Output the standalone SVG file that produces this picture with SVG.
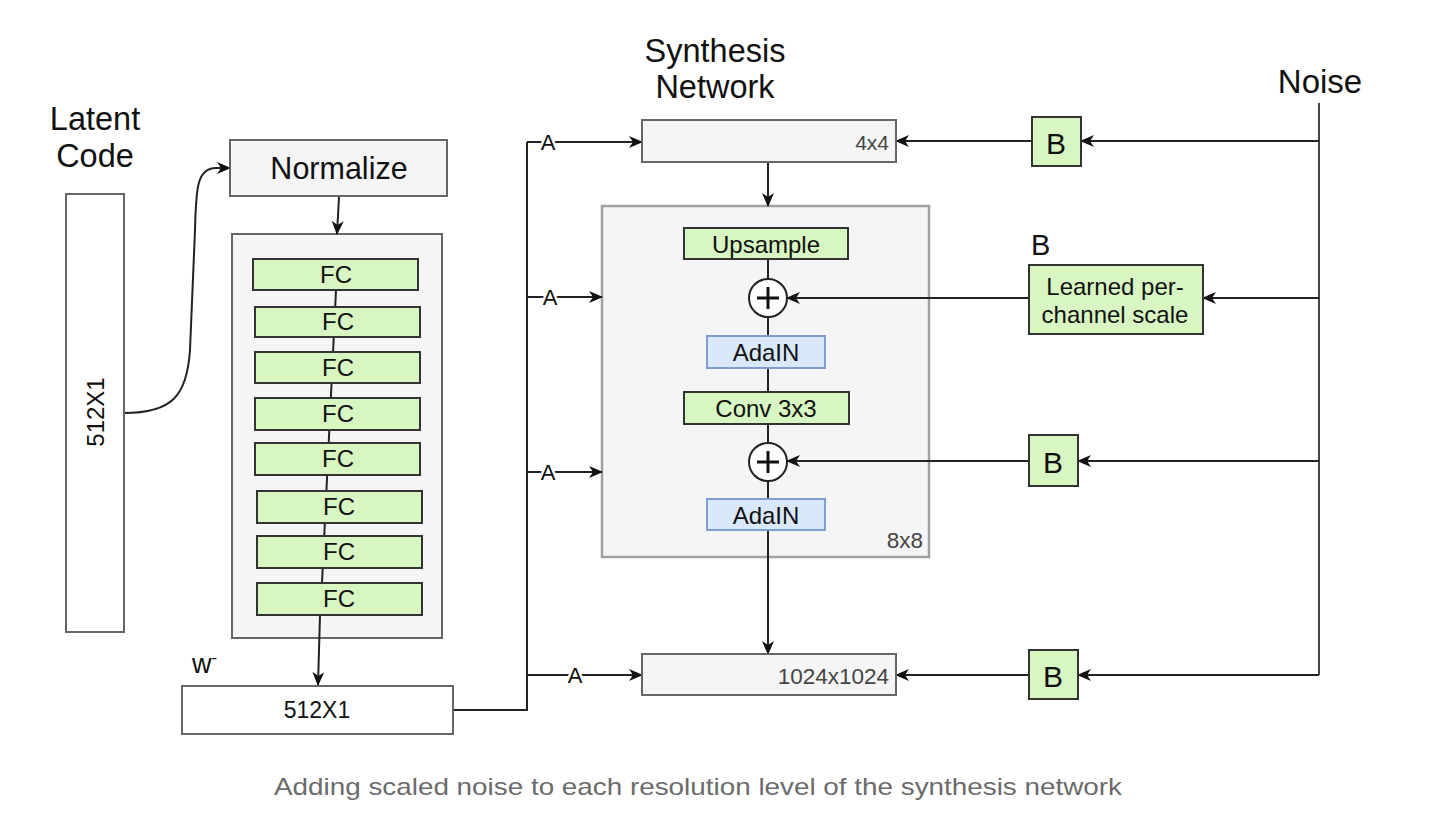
<svg xmlns="http://www.w3.org/2000/svg" width="1440" height="828" viewBox="0 0 1440 828">
<defs>
<style>
text{font-family:"Liberation Sans",Arial,sans-serif;fill:#111}
.title{font-size:32.5px}
.gray{fill:#f5f5f5;stroke:#666;stroke-width:2}
.green{fill:#d7f6c1;stroke:#333;stroke-width:2}
.blue{fill:#dae8fc;stroke:#7d9fd0;stroke-width:2}
.white{fill:#fff;stroke:#666;stroke-width:2}
.lbl{font-size:24px;text-anchor:middle}
.res{font-size:22.5px;text-anchor:end;fill:#444}
.a{font-size:22px;text-anchor:middle;stroke:#fff;stroke-width:5;paint-order:stroke}
.ln{fill:none;stroke:#222;stroke-width:2}
.arr{fill:none;stroke:#222;stroke-width:2;marker-end:url(#ah)}
</style>
<marker id="ah" markerUnits="userSpaceOnUse" markerWidth="14" markerHeight="12" viewBox="0 0 14 12" refX="13" refY="6" orient="auto">
<path d="M0,0 L14,6 L0,12 L4,6 Z" fill="#111"/>
</marker>
</defs>
<rect width="1440" height="828" fill="#fff"/>

<g id="mapping">
<rect class="gray" x="232" y="234" width="210" height="404"/>
</g>
<g id="block-8x8">
<rect x="602" y="206" width="327" height="351" fill="#f5f5f5" stroke="#a0a0a0" stroke-width="2.5"/>
<text class="res" x="923" y="548">8x8</text>
</g>

<g id="connectors">
<path class="arr" d="M124,413 C172,413 187,396 190,350 L195,230 C196,188 197,168 216,168 L230,168"/>
<path class="arr" d="M339,197 L337,234"/>
<path class="ln" d="M336,290 L322,583"/>
<path class="arr" d="M320,615 L318,685"/>
<path class="ln" d="M453,710 L527,710 L527,142"/>
<path class="arr" d="M527,142 L642,142"/>
<path class="arr" d="M527,297 L602,297"/>
<path class="arr" d="M527,472 L602,472"/>
<path class="arr" d="M527,675 L642,675"/>
<path class="arr" d="M768,162 L768,206"/>
<path class="ln" d="M768,259 L768,279 M768,317 L768,336 M768,368 L768,392 M768,424 L768,443 M768,481 L768,499"/>
<path class="arr" d="M768,530 L768,654"/>
<path class="ln" style="stroke:#444" d="M1319,103 L1319,675"/>
<path class="arr" d="M1319,141 L1081,141"/>
<path class="arr" d="M1032,141 L896,141"/>
<path class="arr" d="M1319,298 L1203,298"/>
<path class="arr" d="M1029,298 L787,298"/>
<path class="arr" d="M1319,461 L1078,461"/>
<path class="arr" d="M1029,461 L787,461"/>
<path class="arr" d="M1319,675 L1078,675"/>
<path class="arr" d="M1029,675 L896,675"/>
</g>

<g id="labels-a">
<text class="a" x="548" y="150">A</text>
<text class="a" x="550" y="305">A</text>
<text class="a" x="548" y="480">A</text>
<text class="a" x="575" y="683">A</text>
</g>

<g id="latent-code">
<text class="title" x="95" y="130" text-anchor="middle">Latent</text>
<text class="title" x="95" y="167" text-anchor="middle">Code</text>
<rect class="white" x="66" y="194" width="58" height="438"/>
<text transform="translate(104,412) rotate(-90)" font-size="24" text-anchor="middle">512X1</text>
</g>

<g id="normalize">
<rect class="gray" x="230" y="140" width="217" height="56"/>
<text x="339" y="179" font-size="30.5" text-anchor="middle">Normalize</text>
</g>

<g id="fc1"><rect class="green" x="253" y="259" width="165" height="31"/><text class="lbl" x="336" y="283">FC</text></g>
<g id="fc2"><rect class="green" x="255" y="307" width="165" height="30"/><text class="lbl" x="338" y="330">FC</text></g>
<g id="fc3"><rect class="green" x="255" y="352" width="165" height="31"/><text class="lbl" x="338" y="376">FC</text></g>
<g id="fc4"><rect class="green" x="255" y="398" width="165" height="32"/><text class="lbl" x="338" y="422">FC</text></g>
<g id="fc5"><rect class="green" x="255" y="443" width="165" height="32"/><text class="lbl" x="338" y="467">FC</text></g>
<g id="fc6"><rect class="green" x="257" y="491" width="165" height="32"/><text class="lbl" x="339" y="515">FC</text></g>
<g id="fc7"><rect class="green" x="257" y="536" width="165" height="32"/><text class="lbl" x="339" y="560">FC</text></g>
<g id="fc8"><rect class="green" x="257" y="583" width="165" height="32"/><text class="lbl" x="339" y="607">FC</text></g>

<g id="w-label">
<text x="192" y="673" font-size="27">w<tspan font-size="17" dy="-10">-</tspan></text>
</g>

<g id="w-vector">
<rect class="white" x="182" y="686" width="271" height="48"/>
<text x="317" y="718" font-size="23" text-anchor="middle">512X1</text>
</g>

<g id="synthesis-title">
<text class="title" x="715" y="62" text-anchor="middle">Synthesis</text>
<text class="title" x="715" y="98" text-anchor="middle">Network</text>
</g>

<g id="block-4x4">
<rect class="gray" x="642" y="120" width="254" height="42"/>
<text class="res" x="889" y="150" style="font-size:21px">4x4</text>
</g>

<g id="upsample"><rect class="green" x="684" y="228" width="164" height="31"/><text class="lbl" x="766" y="253" font-size="26">Upsample</text></g>
<g id="add1"><circle cx="768" cy="298" r="19" fill="#fff" stroke="#222" stroke-width="2"/><path d="M757,298 H779 M768,287 V309" stroke="#111" stroke-width="3"/></g>
<g id="adain1"><rect class="blue" x="707" y="336" width="118" height="32"/><text class="lbl" x="766" y="361" font-size="25">AdaIN</text></g>
<g id="conv"><rect class="green" x="684" y="392" width="165" height="32"/><text class="lbl" x="766" y="417" font-size="25.5">Conv 3x3</text></g>
<g id="add2"><circle cx="768" cy="462" r="19" fill="#fff" stroke="#222" stroke-width="2"/><path d="M757,462 H779 M768,451 V473" stroke="#111" stroke-width="3"/></g>
<g id="adain2"><rect class="blue" x="707" y="499" width="118" height="31"/><text class="lbl" x="766" y="524" font-size="25">AdaIN</text></g>

<g id="block-1024">
<rect class="gray" x="642" y="654" width="254" height="41"/>
<text class="res" x="889" y="684">1024x1024</text>
</g>

<g id="noise">
<text class="title" x="1320" y="93" text-anchor="middle" style="font-size:33px">Noise</text>
</g>

<g id="b1"><rect class="green" x="1032" y="117" width="49" height="49"/><text x="1056" y="154" font-size="30" text-anchor="middle">B</text></g>
<g id="learned-scale">
<text x="1031" y="255" font-size="29">B</text>
<rect class="green" x="1029" y="265" width="174" height="69"/>
<text class="lbl" x="1115" y="295" font-size="25">Learned per-</text>
<text class="lbl" x="1115" y="323" font-size="25">channel scale</text>
</g>
<g id="b2"><rect class="green" x="1029" y="435" width="49" height="51"/><text x="1053" y="473" font-size="30" text-anchor="middle">B</text></g>
<g id="b3"><rect class="green" x="1029" y="650" width="49" height="49"/><text x="1053" y="687" font-size="30" text-anchor="middle">B</text></g>

<g id="caption">
<text x="698" y="795" font-size="24" text-anchor="middle" style="fill:#6b6b6b" textLength="848" lengthAdjust="spacingAndGlyphs">Adding scaled noise to each resolution level of the synthesis network</text>
</g>
</svg>
